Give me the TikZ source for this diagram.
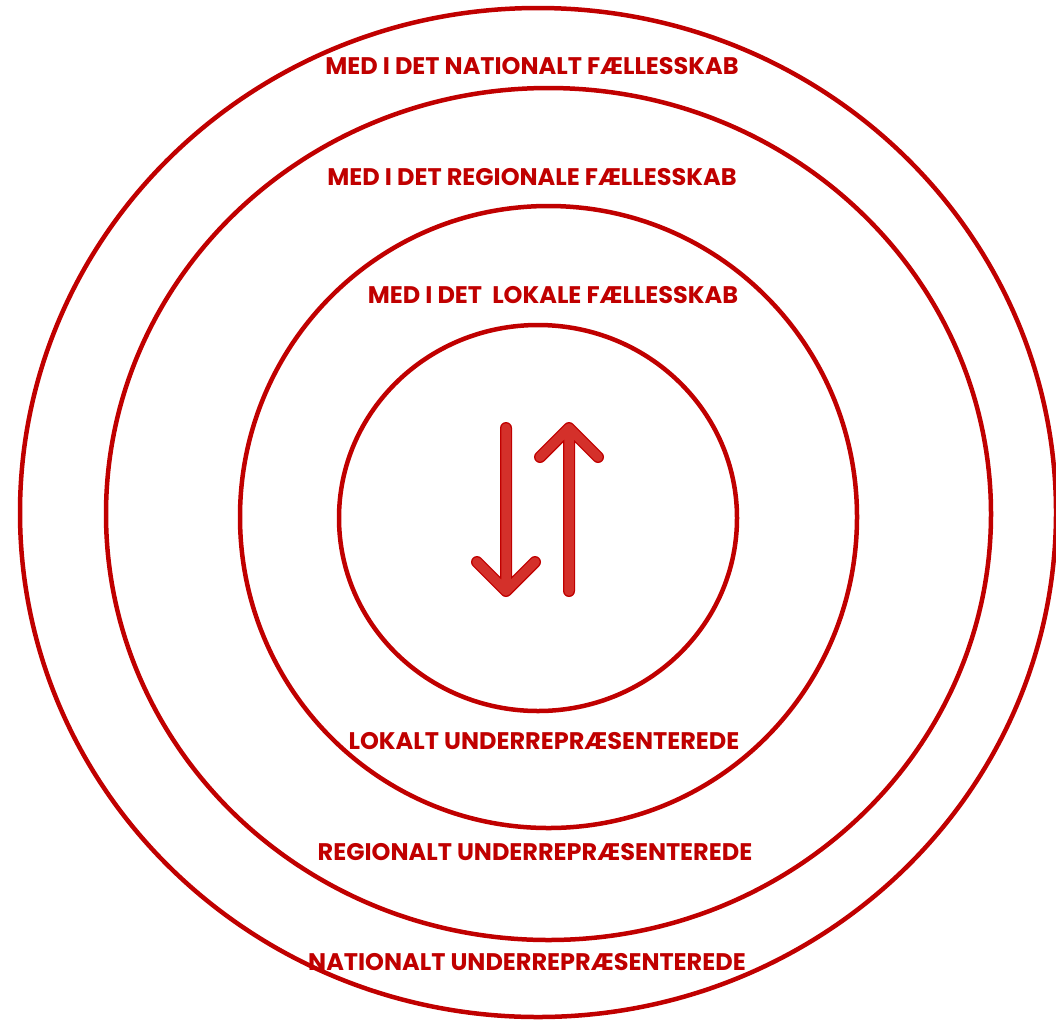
\documentclass[tikz,border=0pt]{standalone}
\usepackage{fontspec}
\setmainfont{Poppins}
\definecolor{ringred}{HTML}{C00000}
\definecolor{arrowred}{HTML}{D4302A}
\tikzset{
	ring/.style={draw=ringred, line width=4.5pt},
	ringlabel/.style={text=ringred, font=\fontsize{24}{26}\selectfont\bfseries, inner sep=0pt},
	arrowline/.style={draw=ringred, line width=12pt, line cap=round, line join=round},
	arrowfill/.style={draw=arrowred, line width=9.5pt, line cap=round, line join=round},
}
\begin{document}
\begin{tikzpicture}[x=1pt,y=-1pt]
			\clip (0,0) rectangle (1056,1026);
			% rings, outer to inner
			\foreach \cx/\cy/\rx/\ry in {538/512.5/518/504.5, 548.5/514/442.5/426, 548.5/517/308.5/311, 538/518/199/193}
			{
				\draw[ring] (\cx,\cy) ellipse [x radius=\rx pt, y radius=\ry pt];
			}
			% labels above the centre
			\node[ringlabel] (with_nat) at (532,66) {MED I DET NATIONALT FÆLLESSKAB};
			\node[ringlabel] (with_reg) at (532,177) {MED I DET REGIONALE FÆLLESSKAB};
			\node[ringlabel] (with_lok) at (553,295) {MED I DET\ \ LOKALE FÆLLESSKAB};
			% labels below the centre
			\node[ringlabel] (under_lok) at (544,741) {LOKALT UNDERREPRÆSENTEREDE};
			\node[ringlabel] (under_reg) at (535,852) {REGIONALT UNDERREPRÆSENTEREDE};
			\node[ringlabel] (under_nat) at (527,962) {NATIONALT UNDERREPRÆSENTEREDE};
			% end points of the two arrows
			\coordinate (down_top) at (506,428);
			\coordinate (down_tip) at (506,591);
			\coordinate (down_l) at (477,562);
			\coordinate (down_r) at (535,562);
			\coordinate (up_bot) at (569,591);
			\coordinate (up_tip) at (569,428);
			\coordinate (up_l) at (540,457);
			\coordinate (up_r) at (598,457);
			% outline first, then the lighter fill
			\foreach \pass in {arrowline, arrowfill}
			{
				\draw[\pass] (down_top) -- (down_tip) (down_l) -- (down_tip) -- (down_r);
				\draw[\pass] (up_bot) -- (up_tip) (up_l) -- (up_tip) -- (up_r);
			}
\end{tikzpicture}
\end{document}
